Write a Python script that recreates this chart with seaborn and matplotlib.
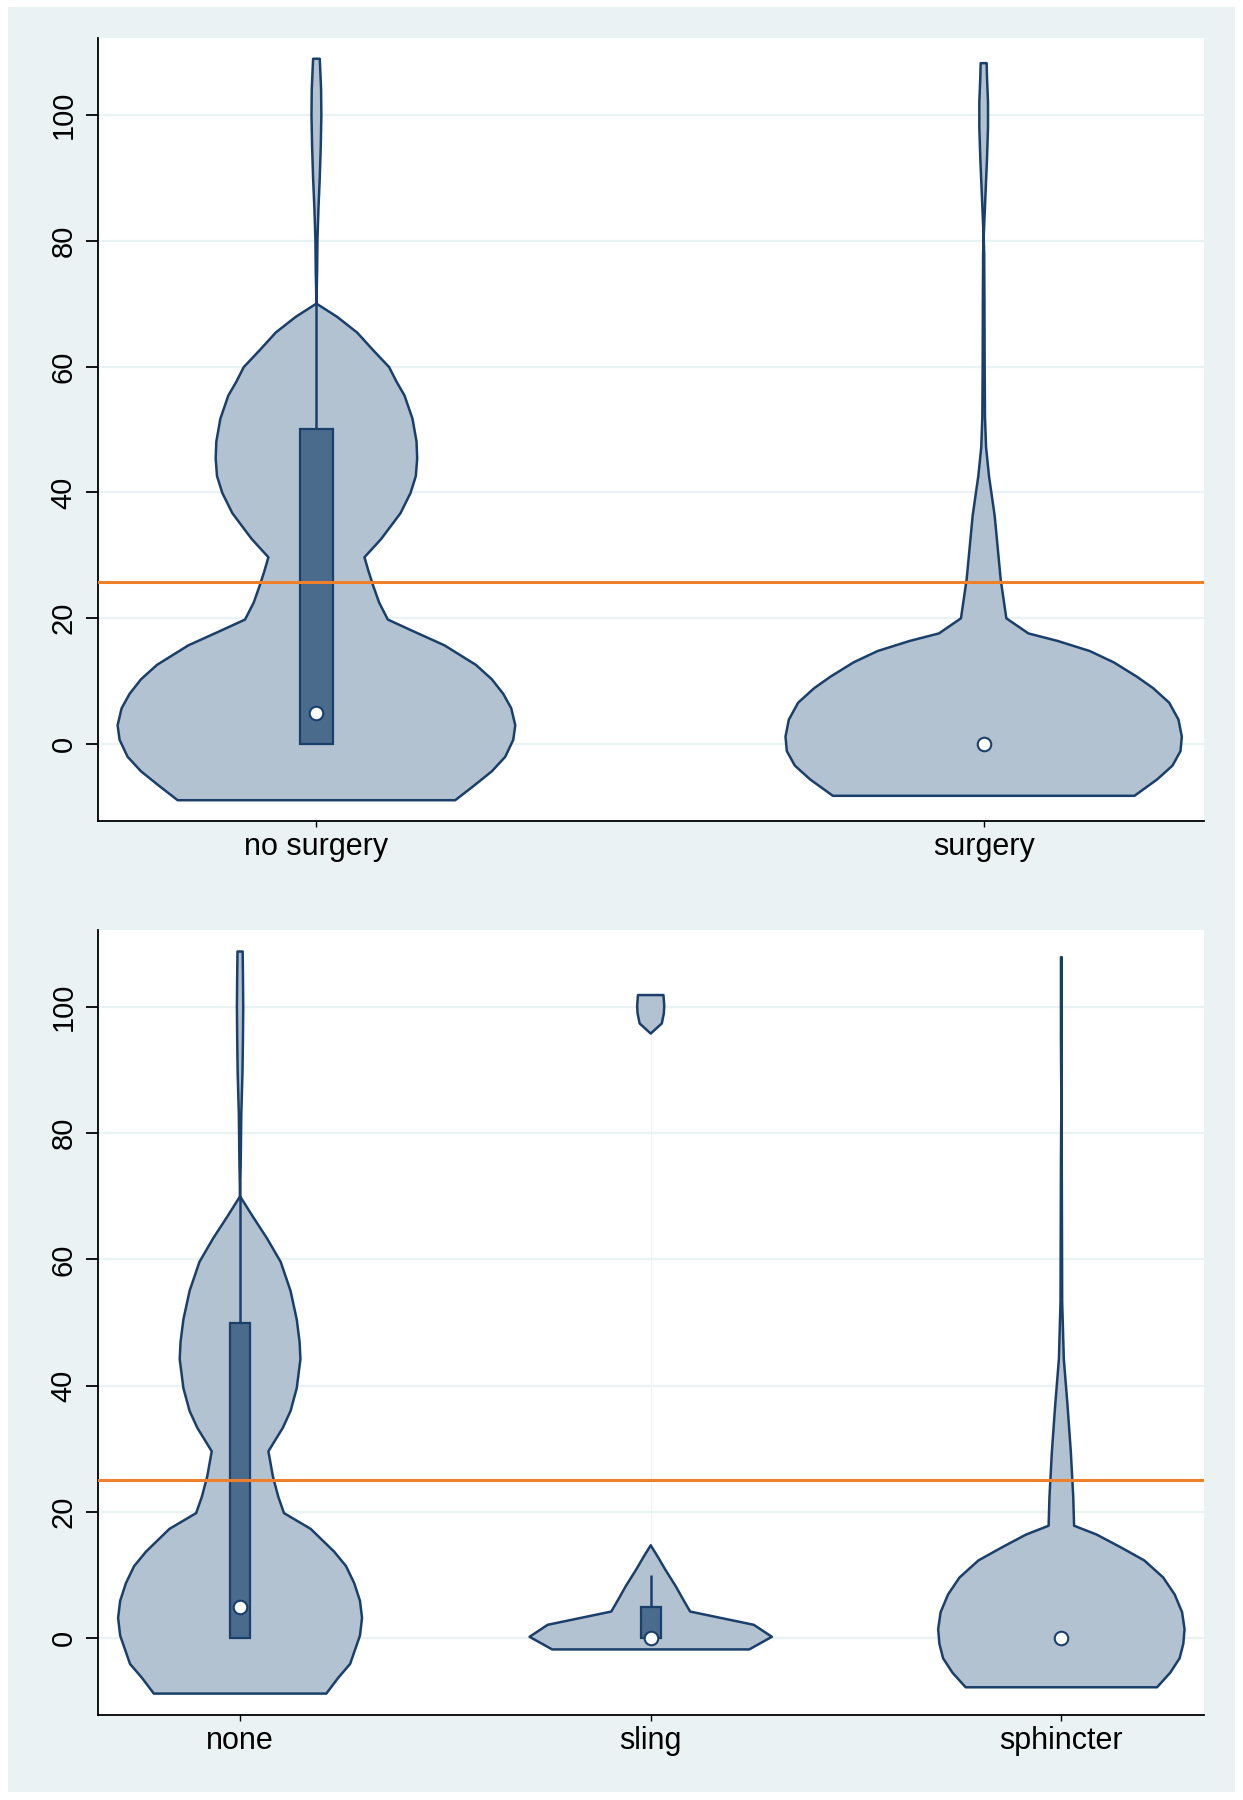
import numpy as np
import seaborn as sns
import matplotlib.pyplot as plt
from matplotlib.patches import Rectangle

# colours (Stata s2color-like)
BG = "#EAF2F3"
FILL = "#B3C2D1"
BOX = "#4A6B8C"
NAVY = "#1A3F6B"
ORANGE = "#F07F2A"

# top panel: surgery yes/no
top_cats = ["no surgery", "surgery"]
top_ref = 25.7
top_median = [5, 0]
top_q1 = [0, 0]
top_q3 = [50, 0]
top_upper = [70, 0]

# violin outlines: value levels and half-widths (in category units)
nosurg_y = [-8.9, -6.6, -4.3, -2.0, 0.7, 3.0, 5.7, 8.0, 10.3, 12.6, 15.7, 18.0, 19.8, 22.5, 25.2,
            27.5, 29.7, 32.6, 36.7, 39.9, 42.6, 45.4, 48.1, 51.7, 55.4, 57.6, 59.9, 62.6, 65.4,
            67.9, 70.0, 75, 80, 85, 90, 95, 100, 104, 108.9]
nosurg_w = [0.208, 0.236, 0.263, 0.283, 0.295, 0.298, 0.292, 0.280, 0.263, 0.239, 0.192, 0.144,
            0.107, 0.094, 0.085, 0.078, 0.072, 0.097, 0.126, 0.141, 0.149, 0.151, 0.150, 0.144,
            0.132, 0.120, 0.109, 0.085, 0.061, 0.031, 0.0, 0.001, 0.0015, 0.003, 0.005, 0.0065,
            0.0074, 0.007, 0.005]
surg_y = [-8.2, -5.6, -3.4, -1.1, 1.2, 3.9, 6.6, 8.9, 10.7, 13.0, 14.8, 16.4, 17.6, 20.0, 26.2,
          36.3, 42.6, 47.2, 52, 60, 70, 78, 80.5, 83, 88, 93, 98, 102, 106, 108.2]
surg_w = [0.226, 0.260, 0.283, 0.295, 0.297, 0.292, 0.278, 0.254, 0.230, 0.195, 0.159, 0.111,
          0.067, 0.034, 0.0255, 0.0165, 0.008, 0.0036, 0.002, 0.0015, 0.0012, 0.0008, 0.0, 0.001,
          0.003, 0.005, 0.0065, 0.0065, 0.005, 0.0045]

# bottom panel: type of surgery
bot_cats = ["none", "sling", "sphincter"]
bot_ref = 25.0
bot_median = [5, 0, 0]
bot_q1 = [0, 0, 0]
bot_q3 = [50, 5, 0]
bot_upper = [70, 10, 0]

none_y = [-8.8, -6.3, -4.1, 0.4, 3.2, 5.9, 8.7, 11.4, 13.7, 17.3, 19.8, 22.4, 25.6, 29.6, 33.3,
          36.0, 39.6, 44.2, 46.9, 50.5, 55.0, 59.6, 63.3, 66.7, 70.0, 75, 83, 90, 95, 100, 105,
          108.8]
none_w = [0.210, 0.239, 0.268, 0.292, 0.297, 0.292, 0.278, 0.258, 0.229, 0.172, 0.107, 0.093,
          0.080, 0.069, 0.104, 0.123, 0.138, 0.147, 0.145, 0.138, 0.123, 0.099, 0.066, 0.032,
          0.0, 0.0015, 0.003, 0.006, 0.007, 0.0077, 0.007, 0.0063]
sling_lo_y = [-1.8, 0.2, 2.1, 4.2, 6.0, 8.2, 10.9, 12.8, 14.7]
sling_lo_w = [0.240, 0.295, 0.251, 0.096, 0.080, 0.061, 0.035, 0.018, 0.0]
sling_hi_y = [95.8, 97.4, 99.0, 100.2, 101.9]
sling_hi_w = [0.0, 0.027, 0.032, 0.033, 0.031]
sphinc_y = [-7.8, -5.5, -3.2, -0.9, 1.4, 4.1, 6.9, 9.6, 12.3, 14.4, 16.4, 17.8, 22.3, 29.6, 36.9,
            44.2, 53.3, 65, 75, 85, 95, 107.9]
sphinc_w = [0.233, 0.265, 0.288, 0.297, 0.300, 0.294, 0.276, 0.248, 0.202, 0.144, 0.086, 0.031,
            0.029, 0.023, 0.015, 0.006, 0.002, 0.0015, 0.001, 0.0, 0.001, 0.001]

yticks = [0, 20, 40, 60, 80, 100]

sns.set_theme(style="white")
plt.rcParams["font.family"] = ["Liberation Sans", "DejaVu Sans"]


def violin(ax, pos, ys, ws):
    ys = np.asarray(ys, float)
    ws = np.asarray(ws, float)
    xs = np.concatenate([pos - ws, (pos + ws)[::-1]])
    yy = np.concatenate([ys, ys[::-1]])
    ax.fill(xs, yy, facecolor=FILL, edgecolor=NAVY, lw=1.8, joinstyle="round", zorder=2)


def boxes(ax, q1, q3, upper, medians, hw):
    pos = np.arange(len(medians))
    for i in pos:
        if q3[i] > q1[i]:
            ax.vlines(i, q3[i], upper[i], color=NAVY, lw=1.8, zorder=3)
            ax.bar(i, q3[i] - q1[i], bottom=q1[i], width=2 * hw, color=BOX,
                   edgecolor=NAVY, lw=1.6, zorder=3)
    sns.scatterplot(x=pos, y=medians, ax=ax, color="white", edgecolor=NAVY,
                    linewidth=1.5, s=95, zorder=5, legend=False)


def style(ax, cats, xlim, ref):
    ax.set_facecolor("white")
    ax.set_xlim(*xlim)
    ax.set_ylim(-12.2, 112.2)
    ax.set_yticks(yticks)
    ax.set_yticklabels([str(t) for t in yticks], rotation=90, va="center", fontsize=21)
    ax.set_xticks(range(len(cats)))
    ax.set_xticklabels(cats, fontsize=22)
    ax.yaxis.grid(True, color=BG, lw=1.6, zorder=0)
    ax.set_axisbelow(True)
    ax.axhline(ref, color=ORANGE, lw=2.2, zorder=4)
    for s in ["top", "right"]:
        ax.spines[s].set_visible(False)
    for s in ["left", "bottom"]:
        ax.spines[s].set_color("black")
        ax.spines[s].set_linewidth(1.3)
    ax.tick_params(axis="y", left=True, length=8.5, width=1.3, pad=6, color="black",
                   labelcolor="black")
    ax.tick_params(axis="x", bottom=True, length=4, width=1.0, pad=4, color="black",
                   labelcolor="black")
    ax.set_xlabel("")
    ax.set_ylabel("")


fig = plt.figure(figsize=(12.43, 18), dpi=100)
fig.patch.set_facecolor("white")
fig.patches.append(Rectangle((0.0064, 0.0044), 0.987, 0.9917, transform=fig.transFigure,
                             facecolor=BG, edgecolor="none", zorder=-10))

ax1 = fig.add_axes([0.0785, 0.5439, 0.890, 0.435])
ax2 = fig.add_axes([0.0785, 0.0472, 0.890, 0.4361])

# top panel
violin(ax1, 0, nosurg_y, nosurg_w)
violin(ax1, 1, surg_y, surg_w)
boxes(ax1, top_q1, top_q3, top_upper, top_median, 0.0246)
style(ax1, top_cats, (-0.328, 1.33), top_ref)

# bottom panel
violin(ax2, 0, none_y, none_w)
ax2.vlines(1, sling_lo_y[-1], sling_hi_y[0], color="#EEF2F6", lw=0.8, zorder=1)
violin(ax2, 1, sling_lo_y, sling_lo_w)
violin(ax2, 1, sling_hi_y, sling_hi_w)
violin(ax2, 2, sphinc_y, sphinc_w)
boxes(ax2, bot_q1, bot_q3, bot_upper, bot_median, 0.0240)
style(ax2, bot_cats, (-0.347, 2.347), bot_ref)

fig.savefig("out.png", dpi=100, facecolor=fig.get_facecolor())
